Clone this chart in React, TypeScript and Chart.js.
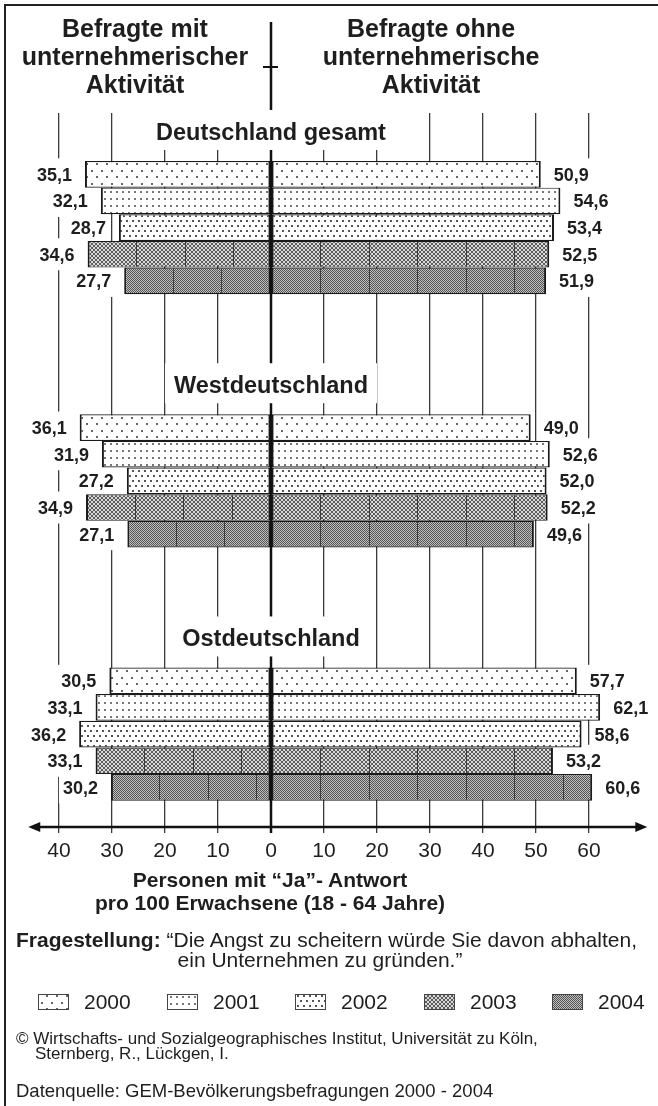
import React, { useEffect, useRef } from 'react';
import { Chart, registerables } from 'chart.js';

Chart.register(...registerables);

const FONT = "'Liberation Sans', Arial, Helvetica, sans-serif";
const INK = '#1e1e1e';

const years = ['2000', '2001', '2002', '2003', '2004'];
const regions = ['Deutschland gesamt', 'Westdeutschland', 'Ostdeutschland'];

// Befragte mit unternehmerischer Aktivität (linke Seite)
const mitDeutschland = [35.1, 32.1, 28.7, 34.6, 27.7];
const mitWest = [36.1, 31.9, 27.2, 34.9, 27.1];
const mitOst = [30.5, 33.1, 36.2, 33.1, 30.2];

// Befragte ohne unternehmerische Aktivität (rechte Seite)
const ohneDeutschland = [50.9, 54.6, 53.4, 52.5, 51.9];
const ohneWest = [49.0, 52.6, 52.0, 52.2, 49.6];
const ohneOst = [57.7, 62.1, 58.6, 53.2, 60.6];

const tickValues = [-40, -30, -20, -10, 0, 10, 20, 30, 40, 50, 60];
const tickLabels = ['40', '30', '20', '10', '0', '10', '20', '30', '40', '50', '60'];

const mitByRegion = [mitDeutschland, mitWest, mitOst];
const ohneByRegion = [ohneDeutschland, ohneWest, ohneOst];

// layout constants
const GROUP_GAP = 4.5; // empty bar slots between groups
const Y_MIN = -2.3;
const Y_MAX = 24.485;
const ARROW_LEFT = -45.8;
const ARROW_RIGHT = 71.0;
const LABEL_GAP = 13;
const SEAM_STEP = 48.5;

const slot = (g: number, i: number) => g * (years.length + GROUP_GAP) + i;
const fmt = (v: number) => Math.abs(v).toFixed(1).replace('.', ',');

function tile(w: number, h: number, paint: (g: CanvasRenderingContext2D) => void) {
  const c = document.createElement('canvas');
  c.width = w;
  c.height = h;
  const g = c.getContext('2d')!;
  paint(g);
  return c;
}

function makePatterns(ctx: CanvasRenderingContext2D) {
  const tiles = [
    tile(10, 13, (g) => {
      g.fillStyle = '#fff';
      g.fillRect(0, 0, 10, 13);
      g.fillStyle = '#666';
      g.fillRect(1, 1, 2, 2);
      g.fillRect(6, 7, 2, 2);
    }),
    tile(6, 7, (g) => {
      g.fillStyle = '#fff';
      g.fillRect(0, 0, 6, 7);
      g.fillStyle = '#777';
      g.fillRect(2, 2, 2, 2);
    }),
    tile(6, 10, (g) => {
      g.fillStyle = '#fff';
      g.fillRect(0, 0, 6, 10);
      g.fillStyle = '#555';
      g.fillRect(0, 0, 2, 2);
      g.fillRect(3, 5, 2, 2);
    }),
    tile(4, 4, (g) => {
      g.fillStyle = '#d8d8d8';
      g.fillRect(0, 0, 4, 4);
      g.fillStyle = '#5e5e5e';
      for (let k = 0; k < 4; k++) {
        g.fillRect(k, k, 1, 1);
        g.fillRect(3 - k, k, 1, 1);
      }
    }),
    tile(2, 2, (g) => {
      g.fillStyle = '#bdbdbd';
      g.fillRect(0, 0, 2, 2);
      g.fillStyle = '#565656';
      g.fillRect(0, 0, 1, 1);
      g.fillRect(1, 1, 1, 1);
    }),
  ];
  return tiles.map((t) => ctx.createPattern(t, 'repeat') as CanvasPattern);
}

const overlay = {
  id: 'overlay',
  beforeDatasetsDraw(chart: any) {
    const ctx = chart.ctx as CanvasRenderingContext2D;
    ctx.save();
    ctx.font = `bold 18px ${FONT}`;
    ctx.fillStyle = '#fff';
    chart.data.datasets.forEach((ds: any, di: number) => {
      const meta = chart.getDatasetMeta(di);
      meta.data.forEach((el: any, j: number) => {
        const v = ds.data[j].x;
        const txt = fmt(v);
        const w = ctx.measureText(txt).width;
        const x0 = v < 0 ? el.x - LABEL_GAP - w : el.x + LABEL_GAP;
        ctx.fillRect(x0 - 4, el.y - 16, w + 8, 32);
      });
    });
    ctx.restore();
  },
  afterDatasetsDraw(chart: any) {
    const ctx = chart.ctx as CanvasRenderingContext2D;
    const xs = chart.scales.x;
    const area = chart.chartArea;
    const zero = xs.getPixelForValue(0);
    ctx.save();

    // seams of the tiled raster in the darker bars
    ctx.strokeStyle = '#3c3c3c';
    ctx.lineWidth = 1;
    chart.data.datasets.forEach((ds: any, di: number) => {
      if (!ds.seams) return;
      chart.getDatasetMeta(di).data.forEach((el: any) => {
        const l = Math.min(el.x, el.base);
        const r = Math.max(el.x, el.base);
        const t = el.y - el.height / 2;
        const b = el.y + el.height / 2;
        for (let sx = l + SEAM_STEP; sx < r - 3; sx += SEAM_STEP) {
          const px = Math.round(sx) + 0.5;
          ctx.beginPath();
          ctx.moveTo(px, t + 1);
          ctx.lineTo(px, b - 1);
          ctx.stroke();
        }
      });
    });

    // zero line with cross mark between the headings
    ctx.strokeStyle = '#111';
    ctx.lineWidth = 2.5;
    ctx.beginPath();
    ctx.moveTo(zero, 22);
    ctx.lineTo(zero, area.bottom + 6);
    ctx.stroke();
    ctx.lineWidth = 2;
    ctx.beginPath();
    ctx.moveTo(zero - 8, 67);
    ctx.lineTo(zero + 7, 67);
    ctx.stroke();

    // group titles
    ctx.font = `bold 23.5px ${FONT}`;
    ctx.textBaseline = 'alphabetic';
    ctx.textAlign = 'center';
    const first = chart.getDatasetMeta(0).data;
    regions.forEach((name, g) => {
      const el: any = first[g];
      const top = el.y - el.height / 2;
      const base = top - 21;
      const w = ctx.measureText(name).width;
      ctx.fillStyle = '#fff';
      ctx.fillRect(zero - w / 2 - 9, base - 30, w + 18, 40);
      ctx.fillStyle = INK;
      ctx.fillText(name, zero, base);
    });

    // value labels
    ctx.font = `bold 18px ${FONT}`;
    ctx.fillStyle = INK;
    chart.data.datasets.forEach((ds: any, di: number) => {
      chart.getDatasetMeta(di).data.forEach((el: any, j: number) => {
        const v = ds.data[j].x;
        const txt = fmt(v);
        if (v < 0) {
          ctx.textAlign = 'right';
          ctx.fillText(txt, el.x - LABEL_GAP, el.y + 6.5);
        } else {
          ctx.textAlign = 'left';
          ctx.fillText(txt, el.x + LABEL_GAP, el.y + 6.5);
        }
      });
    });

    // axis with arrows
    const ay = area.bottom;
    const xl = xs.getPixelForValue(ARROW_LEFT);
    const xr = xs.getPixelForValue(ARROW_RIGHT);
    ctx.strokeStyle = '#111';
    ctx.lineWidth = 2.5;
    ctx.beginPath();
    ctx.moveTo(xl + 8, ay);
    ctx.lineTo(xr - 8, ay);
    ctx.stroke();
    ctx.fillStyle = '#111';
    ctx.beginPath();
    ctx.moveTo(xl, ay);
    ctx.lineTo(xl + 12, ay - 5);
    ctx.lineTo(xl + 12, ay + 5);
    ctx.closePath();
    ctx.fill();
    ctx.beginPath();
    ctx.moveTo(xr, ay);
    ctx.lineTo(xr - 12, ay - 5);
    ctx.lineTo(xr - 12, ay + 5);
    ctx.closePath();
    ctx.fill();

    // legend
    const LX0 = 38;
    const LSTEP = 128.5;
    const LY = 994;
    ctx.font = `21px ${FONT}`;
    ctx.textAlign = 'left';
    years.forEach((year, i) => {
      const ds: any = chart.data.datasets[i];
      const bx = Math.round(LX0 + i * LSTEP);
      ctx.fillStyle = ds.backgroundColor;
      ctx.fillRect(bx, LY, 31, 16);
      ctx.strokeStyle = '#444';
      ctx.lineWidth = 1;
      ctx.strokeRect(bx + 0.5, LY + 0.5, 30, 15);
      ctx.fillStyle = INK;
      ctx.fillText(year, bx + 46, LY + 15);
    });

    ctx.restore();
  },
};

function buildConfig(patterns: CanvasPattern[]): any {
  const datasets: any[] = [];
  (['mit', 'ohne'] as const).forEach((side) => {
    const src = side === 'mit' ? mitByRegion : ohneByRegion;
    years.forEach((year, i) => {
      datasets.push({
        label: year,
        data: regions.map((_, g) => ({ x: side === 'mit' ? -src[g][i] : src[g][i], y: slot(g, i) })),
        backgroundColor: patterns[i],
        borderColor: '#1a1a1a',
        borderWidth: { top: 1.2, bottom: 1.2, left: 2, right: 2 },
        borderSkipped: false,
        inflateAmount: 0,
        categoryPercentage: 1,
        barPercentage: 1,
        grouped: false,
        clip: false,
        seams: i >= 3,
      });
    });
  });

  return {
    type: 'bar',
    data: { datasets },
    options: {
      indexAxis: 'y',
      responsive: false,
      maintainAspectRatio: false,
      animation: false,
      devicePixelRatio: 1,
      events: [],
      layout: { padding: { left: 59, right: 69, top: 113, bottom: 239 } },
      plugins: {
        legend: { display: false },
        tooltip: { enabled: false },
        title: { display: false },
      },
      scales: {
        x: {
          type: 'linear',
          min: -40,
          max: 60,
          stacked: false,
          offset: false,
          afterBuildTicks: (a: any) => {
            a.ticks = tickValues.map((v) => ({ value: v }));
          },
          afterFit: (a: any) => {
            a.height = 40;
          },
          ticks: {
            callback: (v: number) => tickLabels[tickValues.indexOf(v)],
            font: { family: FONT, size: 21 },
            color: INK,
            padding: 6,
            maxRotation: 0,
            autoSkip: false,
          },
          grid: {
            color: (c: any) => (c.tick && c.tick.value === 0 ? 'rgba(0,0,0,0)' : '#3a3a3a'),
            lineWidth: 1.3,
            tickLength: 6,
            drawTicks: true,
            offset: false,
          },
          border: { display: false },
        },
        y: {
          type: 'linear',
          reverse: true,
          min: Y_MIN,
          max: Y_MAX,
          offset: false,
          display: false,
          grid: { offset: false },
          afterBuildTicks: (a: any) => {
            a.ticks = [{ value: 0 }];
          },
        },
      },
    },
    plugins: [overlay],
  };
}

const abs = (left: number, top: number, extra: React.CSSProperties = {}): React.CSSProperties => ({
  position: 'absolute',
  left,
  top,
  whiteSpace: 'nowrap',
  ...extra,
});

export default function App() {
  const ref = useRef<HTMLCanvasElement>(null);
  useEffect(() => {
    const canvas = ref.current!;
    const ctx = canvas.getContext('2d')!;
    const patterns = makePatterns(ctx);
    const chart = new Chart(canvas, buildConfig(patterns));
    return () => chart.destroy();
  }, []);

  const header: React.CSSProperties = {
    width: 300,
    textAlign: 'center',
    fontWeight: 'bold',
    fontSize: 25,
    lineHeight: '28px',
  };

  return (
    <div
      style={{
        position: 'absolute',
        left: 0,
        top: 0,
        width: 658,
        height: 1106,
        overflow: 'hidden',
        background: '#fff',
        fontFamily: FONT,
        color: INK,
      }}
    >
      <canvas
        ref={ref}
        width={658}
        height={1106}
        style={{ position: 'absolute', left: 0, top: 0, width: 658, height: 1106 }}
      />
      <div
        style={{
          position: 'absolute',
          left: 4,
          top: 4,
          width: 654,
          height: 1102,
          boxSizing: 'border-box',
          borderLeft: '2px solid #222',
          borderTop: '2px solid #222',
        }}
      />
      <div style={abs(-15, 14, header)}>
        Befragte mit
        <br />
        unternehmerischer
        <br />
        Aktivität
      </div>
      <div style={abs(281, 14, header)}>
        Befragte ohne
        <br />
        unternehmerische
        <br />
        Aktivität
      </div>
      <div
        style={abs(70, 868, {
          width: 400,
          textAlign: 'center',
          fontWeight: 'bold',
          fontSize: 21,
          lineHeight: '23px',
        })}
      >
        Personen mit “Ja”- Antwort
        <br />
        pro 100 Erwachsene (18 - 64 Jahre)
      </div>
      <div style={abs(16, 930, { fontSize: 21, lineHeight: '20px' })}>
        <b>Fragestellung:</b> “Die Angst zu scheitern würde Sie davon abhalten,
      </div>
      <div style={abs(120, 950, { width: 400, textAlign: 'center', fontSize: 21, lineHeight: '20px' })}>
        ein Unternehmen zu gründen.”
      </div>
      <div style={abs(16, 1031, { fontSize: 17, lineHeight: '15px' })}>
        © Wirtschafts- und Sozialgeographisches Institut, Universität zu Köln,
      </div>
      <div style={abs(35, 1046, { fontSize: 17, lineHeight: '15px' })}>Sternberg, R., Lückgen, I.</div>
      <div style={abs(16, 1081, { fontSize: 18.5, lineHeight: '20px' })}>
        Datenquelle: GEM-Bevölkerungsbefragungen 2000 - 2004
      </div>
    </div>
  );
}
